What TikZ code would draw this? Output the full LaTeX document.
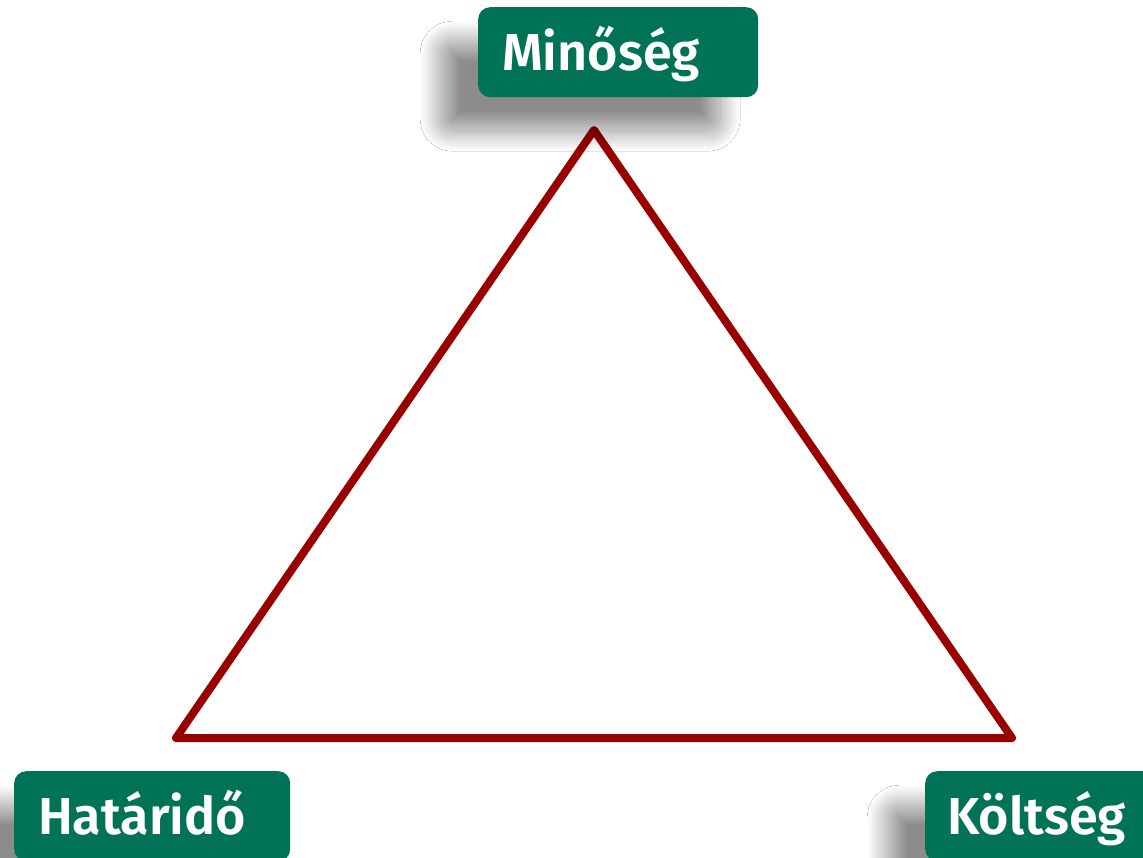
\documentclass[tikz,border=0pt]{standalone}
\usepackage{fontspec}
\setmainfont{Fira Sans}
\newfontfamily\labelfont{Fira Sans SemiBold}
\usetikzlibrary{shadows.blur}
\definecolor{boxgreen}{HTML}{007256}
\definecolor{tridred}{HTML}{990000}
\tikzset{
  labelbox/.style={fill=boxgreen, rounded corners=12pt, text=white,
    font=\labelfont\fontsize{52}{60}\selectfont,
    minimum height=90pt, inner xsep=24pt, inner ysep=0pt,
    text height=37pt, text depth=0pt, align=left, anchor=north west,
    blur shadow={shadow xshift=-38pt, shadow yshift=-34pt, shadow blur radius=20pt,
      shadow blur steps=40, shadow opacity=45}},
  triline/.style={draw=tridred, line width=8pt, line join=round, line cap=round}
}
\begin{document}
\begin{tikzpicture}[x=1pt,y=-1pt]
\useasboundingbox[fill=white] (0,0) rectangle (1143,857);
\coordinate (top) at (594,130);
\coordinate (bl) at (176,738);
\coordinate (br) at (1012,738);
\draw[triline] (top) -- (bl) -- (br) -- cycle;
\node[labelbox, text width=232pt] (min) at (478,7) {Minőség};
\node[labelbox, text width=228pt] (hat) at (14,771) {Határidő};
\node[labelbox, inner xsep=22pt, text width=236pt] (kol) at (925,771) {Költség};
\end{tikzpicture}
\end{document}
